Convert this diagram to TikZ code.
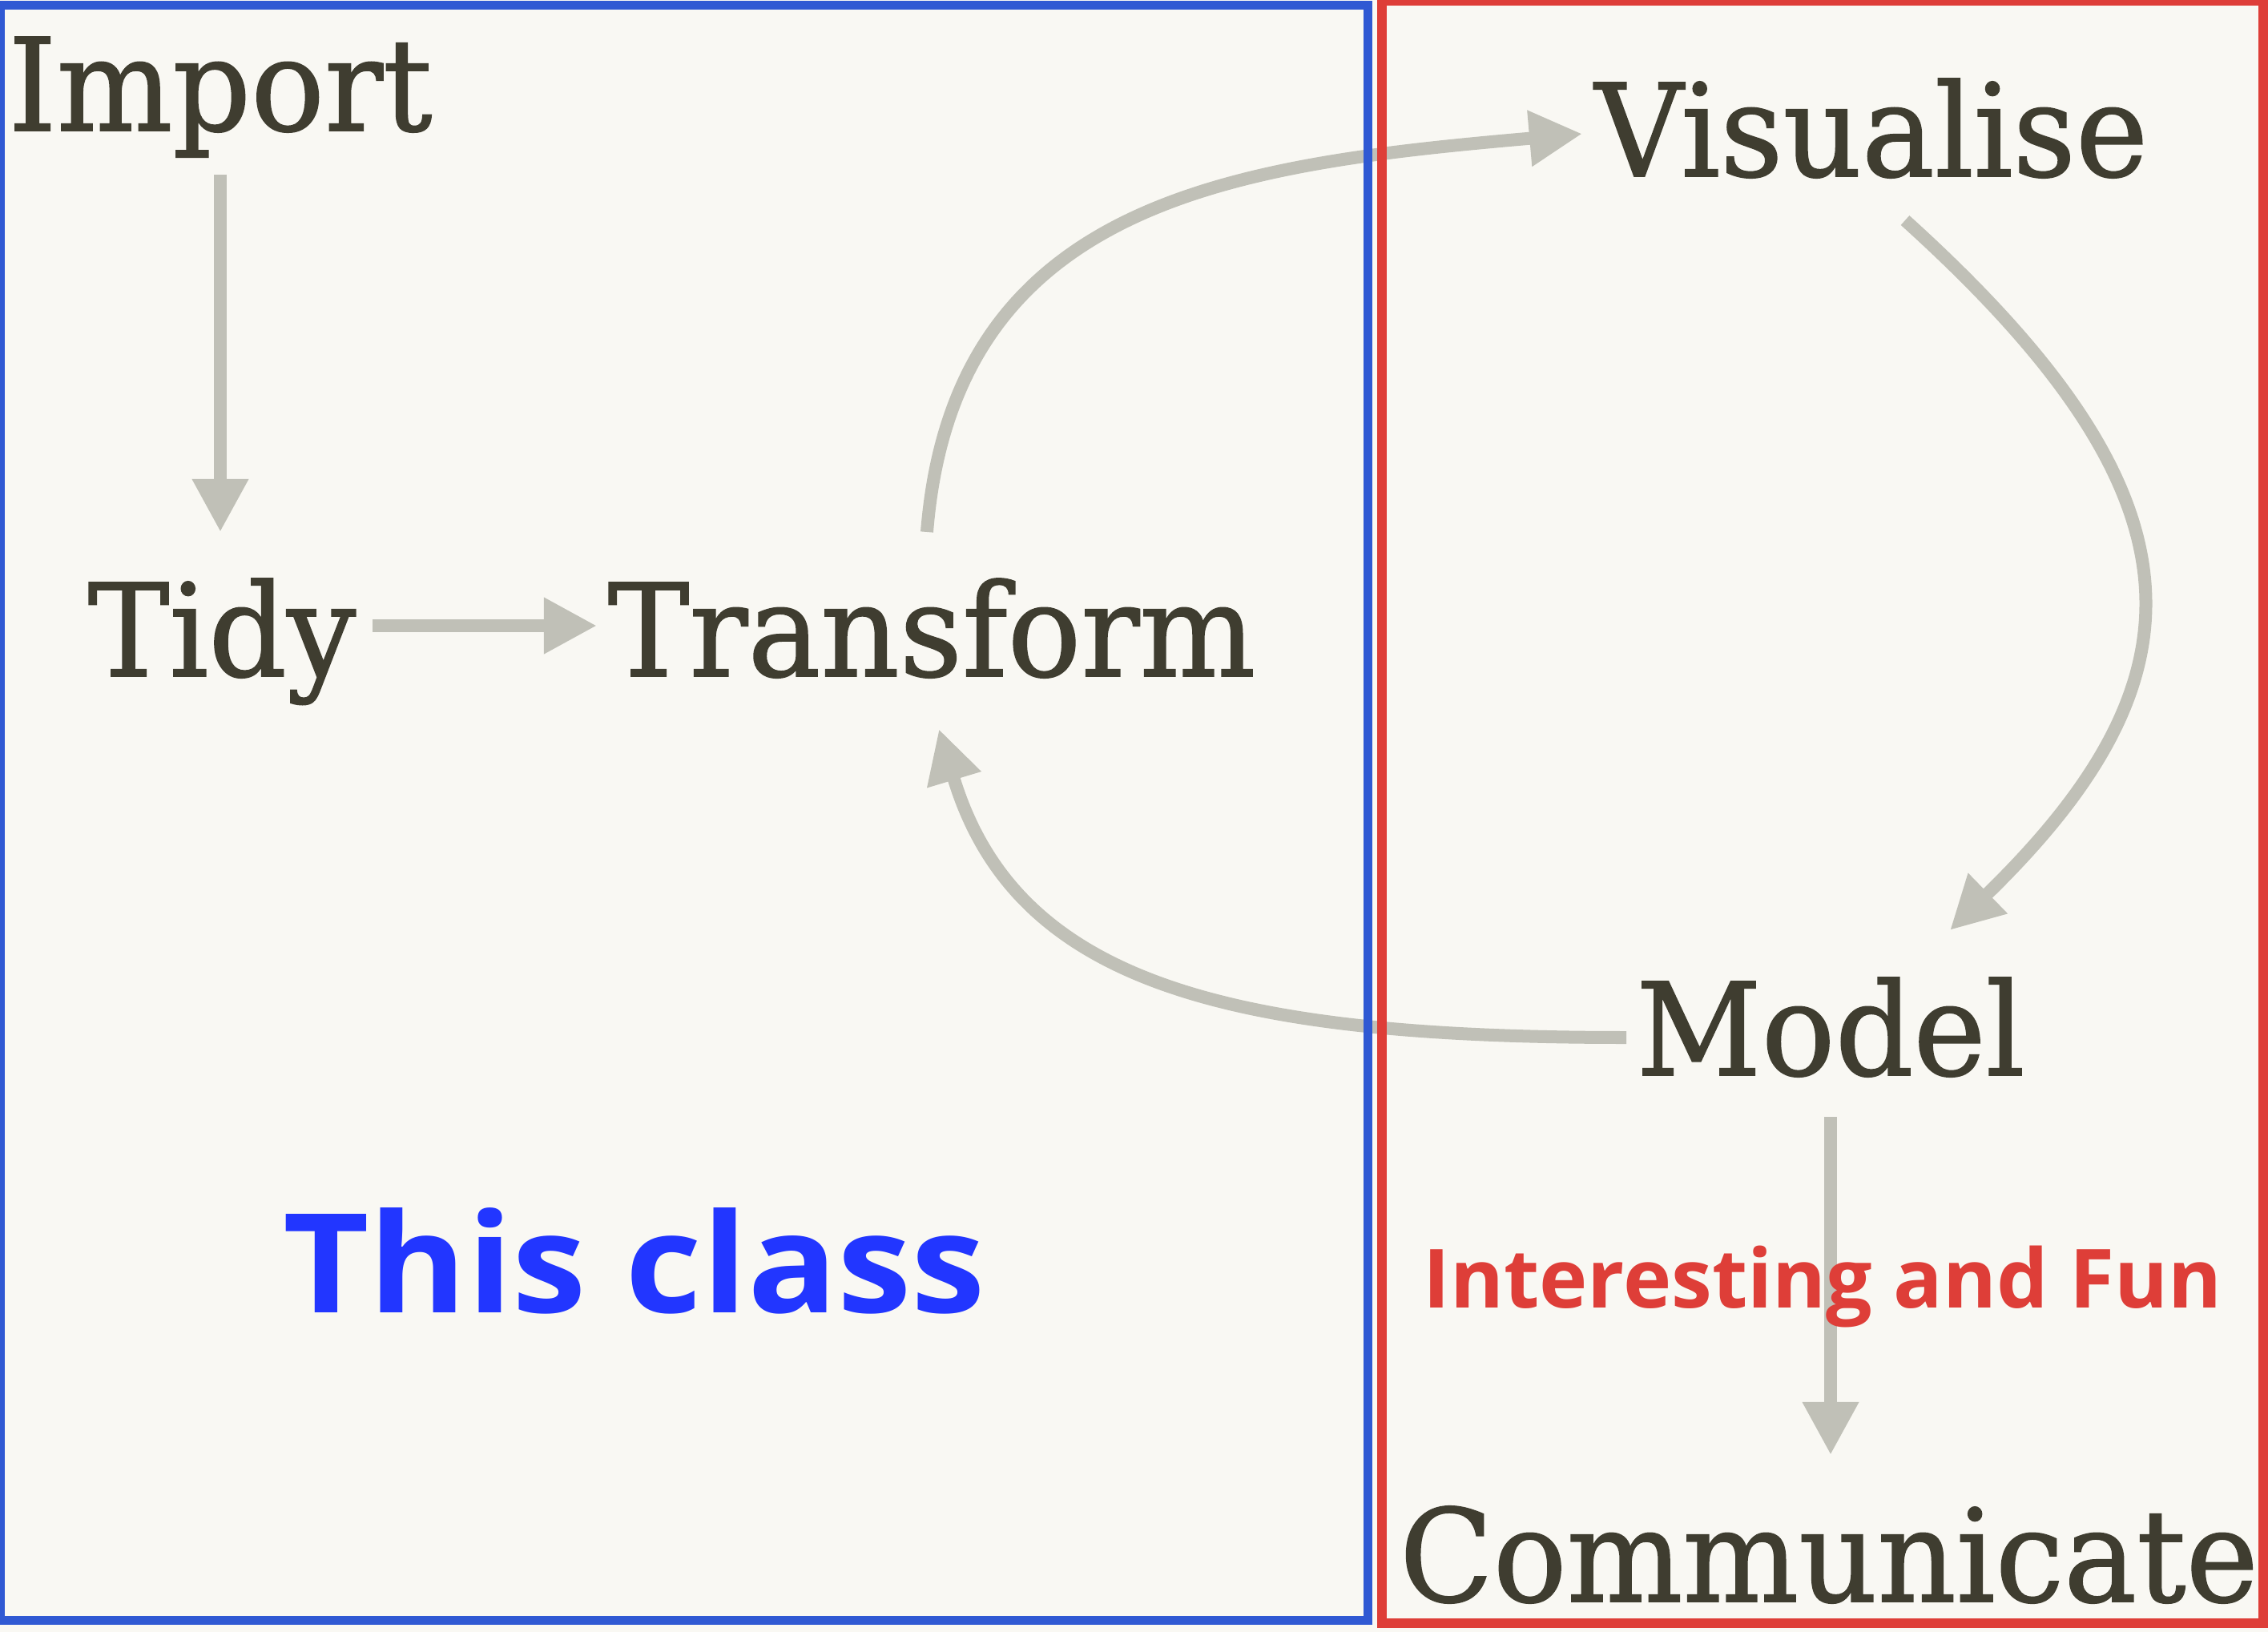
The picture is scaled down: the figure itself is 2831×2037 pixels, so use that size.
\documentclass[tikz,border=0pt]{standalone}
\usepackage{fontspec}
\usetikzlibrary{arrows.meta}
\newfontfamily\slabfont[FakeStretch=0.95, FakeBold=1]{DejaVu Serif}
\newfontfamily\notefont{Open Sans}
\newfontfamily\widenotefont[FakeStretch=1.08]{Open Sans}
\definecolor{paper}{HTML}{F9F8F3}
\definecolor{ink}{HTML}{3F3D30}
\definecolor{flowgrey}{HTML}{C0C0B7}
\definecolor{frameblue}{HTML}{3059D3}
\definecolor{textblue}{HTML}{2236FF}
\definecolor{framered}{HTML}{DE3E38}

\begin{document}
\begin{tikzpicture}[x=0.01cm, y=-0.01cm,
  stage/.style={inner sep=0pt, anchor=base, text=ink, font=\slabfont\fontsize{45.7}{50}\selectfont},
  flow/.style={draw=flowgrey, line width=0.16cm, -{Triangle[length=0.66cm, width=0.66cm]}},
  note/.style={inner sep=0pt, anchor=base, font=\notefont\bfseries\fontsize{29}{34}\selectfont}]
\useasboundingbox (0,0) rectangle (2831,2037);
\fill[paper] (0,0) rectangle (2831,2037);

\node[stage] (import) at (275,163) {Import};
\node[stage] (tidy) at (277,844) {Tidy};
\node[stage] (transform) at (1163,844) {Transform};
\node[stage] (visualise) at (2336,220) {Visualise};
\node[stage] (model) at (2285,1342) {Model};
\node[stage] (communicate) at (2283,1999) {Communicate};
\node[note, text=textblue, font=\widenotefont\bfseries\fontsize{49}{55}\selectfont] (thisclass) at (792,1638) {This class};

\draw[flow] ([shift={(0,55)}]import.base) -- ([shift={(-2,-180)}]tidy.base);
\draw[flow] ([shift={(188,-63)}]tidy.base) -- ([shift={(-418,-63)}]transform.base);
\draw[flow] ([shift={(-6,-180)}]transform.base) .. controls (1190,250) and (1540,205) .. ([shift={(-361,-53)}]visualise.base);
\draw[flow] ([shift={(42,55)}]visualise.base) .. controls (2760,620) and (2760,844) .. ([shift={(149,-181)}]model.base);
\draw[flow] ([shift={(-255,-47)}]model.base) .. controls (1530,1295) and (1267,1226) .. ([shift={(9,66)}]transform.base);
\draw[flow] ([shift={(0,52)}]model.base) -- ([shift={(2,-183)}]communicate.base);

% the two halves
\draw[frameblue, line width=0.11cm] (0,7) rectangle (1707,2022);
\draw[framered, line width=0.12cm] (1725,1) rectangle (2825,2026);

\node[note, text=framered] (interest) at (2275,1632) {Interesting and Fun};
\end{tikzpicture}
\end{document}
